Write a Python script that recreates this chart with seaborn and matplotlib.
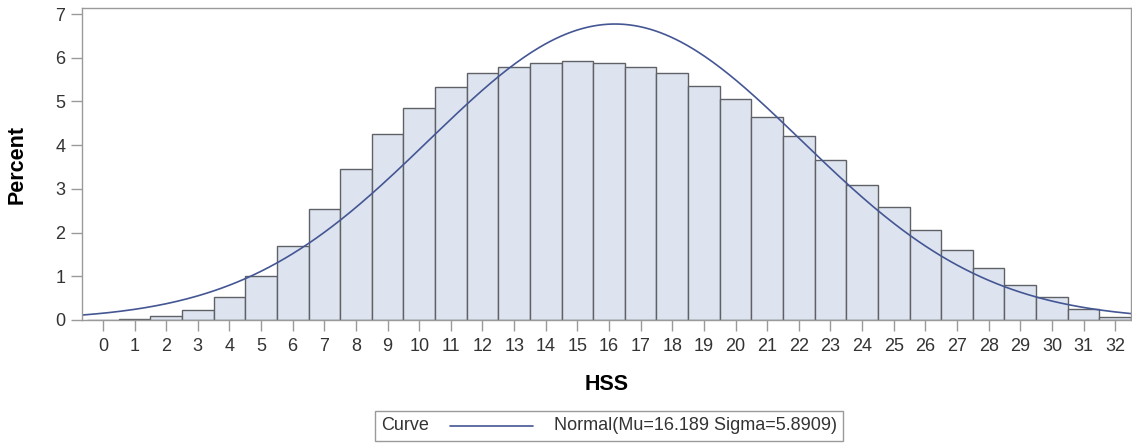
import matplotlib

matplotlib.use("Agg")

import matplotlib.pyplot as plt
import numpy as np
import pandas as pd
import seaborn as sns
from matplotlib.lines import Line2D
from matplotlib.offsetbox import AnchoredOffsetbox, DrawingArea, HPacker, TextArea


HSS_SCORES = list(range(0, 33))
PERCENTS = [
    0.00, 0.02, 0.09, 0.23, 0.52, 1.00, 1.69, 2.55, 3.46, 4.25, 4.86,
    5.33, 5.65, 5.80, 5.89, 5.92, 5.89, 5.80, 5.65, 5.36, 5.06, 4.65,
    4.20, 3.66, 3.10, 2.58, 2.07, 1.61, 1.20, 0.81, 0.52, 0.25, 0.08,
]
MU = 16.189
SIGMA = 5.8909
X_TICKS = list(range(0, 33))
Y_TICKS = list(range(0, 8))
CURVE_LABEL = f"Normal(Mu={MU} Sigma={SIGMA})"

BAR_FILL = "#dde4ef"
BAR_EDGE = "#5f6166"
CURVE_COLOR = "#445694"
FRAME_COLOR = "#9a9a9a"
TEXT_COLOR = "#333333"

W, H = 1132, 443


def normal_curve(x_min: float, x_max: float) -> pd.DataFrame:
    x = np.linspace(x_min, x_max, 400)
    y = 100.0 * np.exp(-0.5 * ((x - MU) / SIGMA) ** 2) / (SIGMA * np.sqrt(2 * np.pi))
    return pd.DataFrame({"HSS": x, "Percent": y})


def main() -> None:
    sns.set_theme(style="white")
    plt.rcParams["font.family"] = ["Liberation Sans", "DejaVu Sans"]

    df = pd.DataFrame({"HSS": HSS_SCORES, "Percent": PERCENTS})

    fig = plt.figure(figsize=(W / 100, H / 100), dpi=100)
    ax = fig.add_axes([82 / W, 1 - 320 / H, (1131 - 82) / W, (320 - 7.5) / H])

    sns.histplot(
        data=df, x="HSS", weights="Percent", discrete=True, stat="count",
        color=BAR_FILL, edgecolor=BAR_EDGE, linewidth=1.0, alpha=1.0, ax=ax,
    )

    x_lo, x_hi = -0.66, 32.5
    curve = normal_curve(x_lo, x_hi)
    sns.lineplot(data=curve, x="HSS", y="Percent", color=CURVE_COLOR, linewidth=1.2, ax=ax)

    ax.set_xlim(x_lo, x_hi)
    ax.set_ylim(0, 7.15)
    ax.set_xticks(X_TICKS)
    ax.set_yticks(Y_TICKS)
    ax.tick_params(axis="both", direction="out", length=8, width=1, color=FRAME_COLOR,
                   labelsize=13, labelcolor=TEXT_COLOR, pad=4, bottom=True, left=True)
    ax.tick_params(axis="x", pad=5)
    for spine in ax.spines.values():
        spine.set_visible(True)
        spine.set_color(FRAME_COLOR)
        spine.set_linewidth(1)

    ax.set_xlabel("")
    ax.set_ylabel("")
    fig.text(607 / W, 1 - 384 / H, "HSS", ha="center", va="center",
             fontsize=15.5, fontweight="bold", color="black")
    fig.text(17 / W, 1 - 164 / H, "Percent", ha="center", va="center", rotation=90,
             fontsize=15.5, fontweight="bold", color="black")

    # SAS-style legend: title on the left, then the line and its label
    fs = 13
    title = TextArea("Curve", textprops=dict(fontsize=fs, color=TEXT_COLOR))
    handle = DrawingArea(60, 8, 0, 0)
    handle.add_artist(Line2D([0, 60], [4, 4], color=CURVE_COLOR, linewidth=1.2))
    label = TextArea(CURVE_LABEL, textprops=dict(fontsize=fs, color=TEXT_COLOR))
    row = HPacker(children=[title, handle, label], align="center", pad=0, sep=15)
    box = AnchoredOffsetbox(loc="center", child=row, pad=0.4, borderpad=0, frameon=True,
                            bbox_to_anchor=(609 / W, 1 - 426 / H), bbox_transform=fig.transFigure)
    box.patch.set_edgecolor(FRAME_COLOR)
    box.patch.set_linewidth(1)
    box.patch.set_boxstyle("square", pad=0)
    fig.add_artist(box)

    fig.savefig("out.png", dpi=100)
    plt.close(fig)


if __name__ == "__main__":
    main()
